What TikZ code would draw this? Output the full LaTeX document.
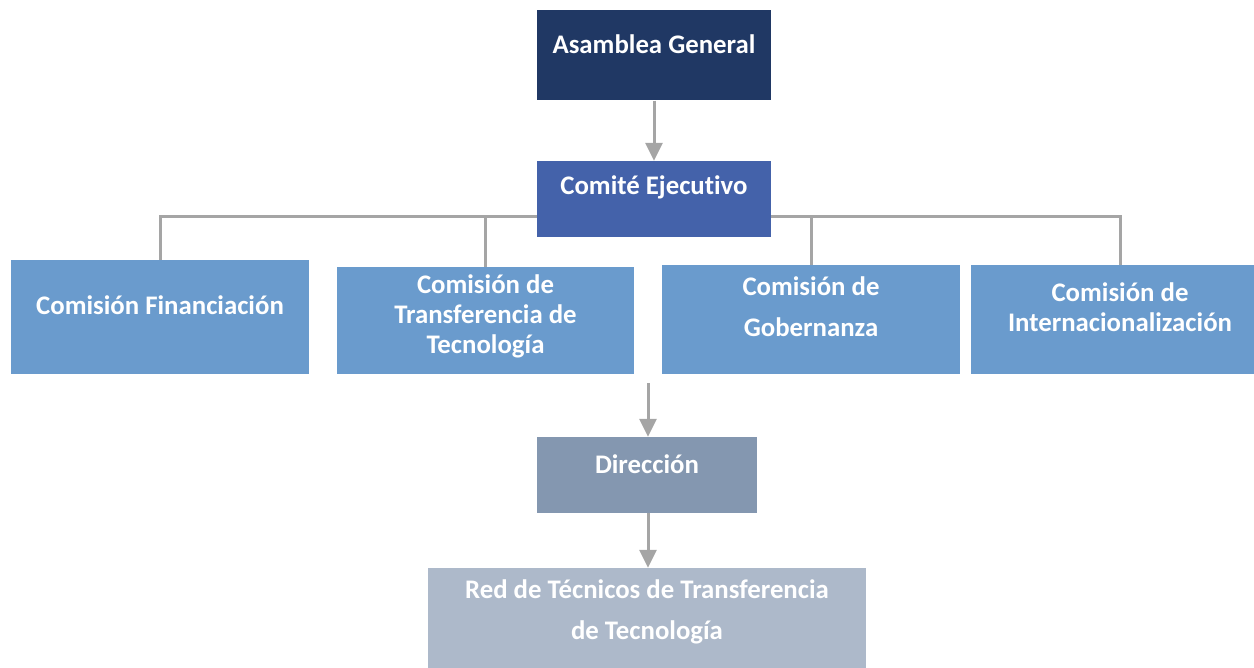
\documentclass[tikz,border=0pt]{standalone}
\usepackage{fontspec}
\setmainfont{Carlito}[Ligatures=NoCommon]
\usetikzlibrary{arrows.meta, positioning}

\definecolor{asamblea}{HTML}{203864}
\definecolor{comite}{HTML}{4462AA}
\definecolor{comision}{HTML}{6A9BCD}
\definecolor{direccion}{HTML}{8497B0}
\definecolor{red}{HTML}{ADB9CA}
\definecolor{linegray}{HTML}{A5A5A5}

\begin{document}
\begin{tikzpicture}[x=1pt, y=-1pt,
    box/.style={rectangle, inner sep=0pt, align=center, text=white,
      font=\fontsize{26.8}{30}\selectfont\bfseries, text height=18pt},
    conn/.style={draw=linegray, line width=3pt},
    arr/.style={conn, -{Triangle[length=18pt, width=17pt]}}]
        \useasboundingbox (0,0) rectangle (1254,668);

        \node[box, fill=asamblea, minimum width=234pt, minimum height=90pt, text depth=22pt] (asamblea) at (654,55.5) {Asamblea General};
        \node[box, fill=comite, minimum width=234pt, minimum height=76pt, text depth=26pt] (comite) at (654,199) {Comit\'e Ejecutivo};

        % multi-line boxes: text height counts the lines above the last one
        \node[box, fill=comision, minimum width=298pt, minimum height=114pt, text depth=22pt] (fin) at (160,317) {Comisi\'on Financiaci\'on};
        \node[box, fill=comision, minimum width=297pt, minimum height=107pt, text height=78pt, text depth=11pt] (trans) at (485.5,320.5) {Comisi\'on de\\Transferencia de\\Tecnolog\'ia};
        \node[box, fill=comision, minimum width=298pt, minimum height=109pt, text height=59pt, text depth=24pt] (gob) at (811,319.5) {Comisi\'on de\\[11pt]Gobernanza};
        \node[box, fill=comision, minimum width=298pt, minimum height=109pt, text height=48pt, text depth=24pt] (int) at (1120,319.5) {Comisi\'on de\\Internacionalizaci\'on};

        \node[box, fill=direccion, minimum width=220pt, minimum height=76pt, text depth=22pt] (dir) at (647,475) {Direcci\'on};
        \node[box, fill=red, minimum width=438pt, minimum height=104pt, text height=59pt, text depth=21pt] (red) at (647,620) {Red de T\'ecnicos de Transferencia\\[11pt]de Tecnolog\'ia};

        \coordinate (bar) at (0,217);
        \coordinate (split) at (648,383);

        \draw[arr] (asamblea) -- (comite);
        \draw[conn] (comite.west |- bar) -- (fin.north |- bar) -- (fin.north);
        \draw[conn] (comite.east |- bar) -- (int.north |- bar) -- (int.north);
        \draw[conn] (trans.north) -- (trans.north |- bar);
        \draw[conn] (gob.north) -- (gob.north |- bar);
        \draw[arr] (split) -- (split |- dir.north);
        \draw[arr] (split |- dir.south) -- (split |- red.north);
  \end{tikzpicture}
\end{document}
